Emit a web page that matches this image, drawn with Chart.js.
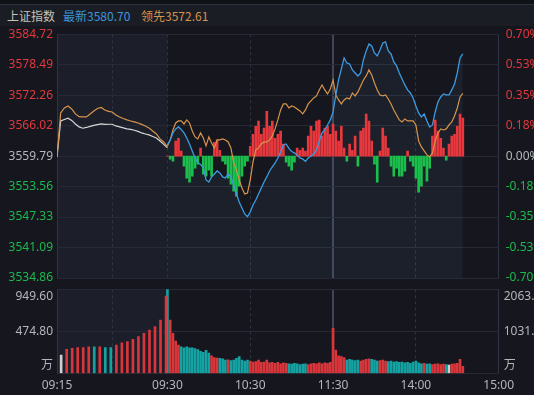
<!DOCTYPE html>
<html>
<head>
<meta charset="utf-8">
<script src="https://cdn.jsdelivr.net/npm/chart.js@4.4.1/dist/chart.umd.min.js"></script>
<style>
  html, body { margin: 0; padding: 0; background: #16171e; }
  #wrap { position: relative; width: 534px; height: 395px; overflow: hidden; background: #16171e; }
  #topbar { position: absolute; left: 0; top: 0; width: 534px; height: 4px; background: #111217; border-bottom: 1px solid #2c3140; }
  #head { position: absolute; left: 0; top: 5px; width: 534px; height: 21px; background: #1b1d25;
          font: 12px 'Noto Sans CJK SC', sans-serif; line-height: 21px; white-space: nowrap; }
  #head span { position: absolute; top: 0; }
  canvas { position: absolute; left: 0; top: 0; }
</style>
</head>
<body>
<div id="wrap">
  <div id="topbar"></div>
  <div id="head">
    <span style="left:7px;color:#c8c2b6">上证指数</span>
    <span style="left:63px;color:#3b96dc">最新3580.70</span>
    <span style="left:141px;color:#d4944e">领先3572.61</span>
  </div>
  <canvas id="volChart" width="560" height="395"></canvas>
  <canvas id="mainChart" width="560" height="395"></canvas>
</div>

<script>
/* ─── DATA ─── */
const PREV_CLOSE = 3559.79;
const AUCTION_UNITS = 80;   // 09:15-09:30 drawn as wide as 80 trading minutes

// call auction 09:15-09:30, one value every 30 s
const auctionLead = [3559.63, 3568.63, 3569.65, 3570.06, 3569.45, 3568.43, 3567.87, 3567.81, 3567.81, 3568.43,
  3569.04, 3569.55, 3569.76, 3569.24, 3568.94, 3568.83, 3568.22, 3567.81, 3567.50, 3567.20,
  3566.99, 3566.79, 3566.58, 3566.28, 3565.97, 3565.56, 3564.95, 3564.33, 3563.31, 3562.70, 3561.67];
const auctionPrice = [3559.63, 3566.99, 3567.30, 3567.55, 3567.10, 3566.38, 3565.77, 3565.50, 3565.66, 3565.87,
  3566.07, 3566.24, 3566.38, 3566.28, 3566.32, 3566.32, 3565.97, 3565.77, 3565.56, 3565.36,
  3565.25, 3565.09, 3564.85, 3564.54, 3564.33, 3564.13, 3563.82, 3563.52, 3562.90, 3562.19, 3561.47];

// continuous trading from 09:30, one value every 2 minutes
const priceLine = [3562.08, 3563.11, 3564.54, 3565.36, 3565.77, 3565.25, 3564.54, 3563.52, 3562.29, 3560.86,
  3559.42, 3558.50, 3558.09, 3557.38, 3554.92, 3554.51, 3555.54, 3556.15, 3556.76, 3556.35,
  3555.54, 3555.33, 3556.15, 3555.54, 3553.90, 3552.06, 3550.42, 3549.19, 3547.97, 3547.41,
  3548.37, 3549.81, 3550.83, 3552.06, 3553.29, 3554.51, 3555.54, 3556.76, 3557.58, 3558.40,
  3559.42, 3560.65, 3562.08, 3562.29, 3561.37, 3560.75, 3560.45, 3560.04, 3559.42, 3559.22,
  3558.71, 3559.42, 3559.83, 3560.24, 3561.06, 3562.90, 3564.54, 3565.15, 3566.17, 3567.20,
  3568.83, 3572.31, 3575.38, 3577.63, 3579.88, 3578.86, 3578.66, 3577.43, 3576.81, 3576.20,
  3576.81, 3579.47, 3581.32, 3582.75, 3582.34, 3580.91, 3580.29, 3581.52, 3582.95, 3583.16,
  3581.32, 3580.70, 3579.06, 3578.25, 3576.81, 3575.59, 3574.36, 3573.34, 3572.72, 3571.70,
  3570.06, 3568.63, 3567.81, 3568.43, 3566.99, 3565.77, 3566.17, 3568.83, 3570.88, 3571.90,
  3572.52, 3572.31, 3572.31, 3573.34, 3574.56, 3576.81, 3579.88, 3580.70];
const leadLine = [3561.88, 3563.11, 3565.15, 3566.58, 3566.99, 3566.99, 3566.38, 3567.20, 3566.58, 3564.95,
  3563.72, 3563.31, 3564.54, 3563.52, 3561.88, 3563.72, 3562.49, 3561.47, 3563.11, 3563.11,
  3563.31, 3563.11, 3562.70, 3561.47, 3558.40, 3556.97, 3554.92, 3553.29, 3552.06, 3552.26,
  3554.92, 3558.60, 3561.06, 3561.47, 3562.29, 3562.70, 3562.70, 3563.11, 3563.92, 3565.36,
  3567.20, 3569.24, 3570.47, 3570.47, 3569.65, 3570.06, 3569.86, 3569.45, 3569.04, 3568.43,
  3569.24, 3570.47, 3571.09, 3571.70, 3572.11, 3573.34, 3574.36, 3573.34, 3572.52, 3573.54,
  3575.38, 3572.31, 3571.29, 3570.47, 3571.29, 3571.70, 3571.49, 3572.72, 3572.11, 3572.93,
  3574.15, 3575.38, 3576.20, 3577.43, 3576.40, 3574.77, 3573.34, 3572.31, 3572.11, 3572.31,
  3571.49, 3570.47, 3569.24, 3568.22, 3567.20, 3566.79, 3567.40, 3566.99, 3566.99, 3566.99,
  3566.17, 3562.90, 3561.67, 3560.86, 3560.04, 3559.63, 3560.45, 3562.90, 3564.54, 3565.36,
  3565.15, 3565.36, 3566.17, 3566.79, 3568.02, 3569.65, 3571.90, 3572.61];
// buy / sell strength bars, in %
const forceBars = [0, -0.017, -0.029, 0.086, 0.103, 0.029, -0.057, -0.126, -0.149, -0.115,
  -0.069, -0.046, 0.046, -0.103, -0.115, -0.080, -0.115, 0.080, 0.092, 0.034,
  -0.029, -0.046, -0.126, -0.161, -0.201, -0.230, -0.172, -0.115, -0.057, -0.029,
  0.057, 0.126, 0.172, 0.201, 0.126, 0.161, 0.258, 0.172, 0.201, 0.103,
  0.126, 0.144, 0.069, -0.034, -0.057, -0.080, -0.034, 0.046, 0.034, 0.046,
  0.029, 0.115, 0.172, 0.144, 0.201, 0.207, 0.115, 0.161, 0.172, 0.126,
  0.184, 0.144, 0.086, 0.172, 0.046, -0.029, 0.069, 0.034, 0.115, -0.057,
  0.144, 0.161, 0.241, 0.201, 0.086, -0.046, -0.149, 0.029, 0.161, 0.115,
  0.046, -0.057, -0.115, -0.069, -0.115, -0.115, -0.086, 0.029, -0.029, -0.057,
  -0.126, -0.207, -0.172, -0.057, -0.144, -0.069, 0.115, 0.207, 0.144, 0.103,
  0.046, -0.023, 0.069, 0.115, 0.126, 0.172, 0.241, 0.218];

// volume (万)
const auctionVol = [209, 273, 284, 291, 291, 302, 302, 302, 291, 291, 321, 347, 359, 386, 415, 453, 491, 528, 603];
const auctionVolKind = ['flat', 'up', 'up', 'up', 'up', 'up', 'down', 'up', 'down', 'down',
  'up', 'up', 'up', 'up', 'up', 'up', 'up', 'up', 'up'];
const matchVol = 874;
const tradeVol = [949.6, 603, 453, 366, 320, 300, 290, 300, 290, 290,
  280, 270, 250, 240, 260, 230, 200, 180, 175, 170,
  165, 150, 155, 145, 150, 170, 190, 150, 140, 150,
  140, 130, 135, 150, 125, 130, 150, 120, 125, 115,
  125, 110, 120, 115, 110, 105, 115, 110, 100, 105,
  110, 100, 110, 115, 110, 120, 110, 120, 115, 125,
  510, 265, 200, 190, 180, 150, 160, 150, 145, 150,
  140, 150, 160, 165, 160, 150, 140, 145, 150, 140,
  135, 140, 130, 135, 125, 130, 120, 125, 115, 130,
  140, 120, 110, 115, 105, 110, 100, 105, 110, 100,
  105, 100, 95, 105, 110, 115, 160, 80];

const priceTicks = [3534.86, 3541.09, 3547.33, 3553.56, 3559.79, 3566.02, 3572.26, 3578.49, 3584.72];
const pctTicks = [-0.70, -0.525, -0.35, -0.175, 0, 0.175, 0.35, 0.525, 0.70];
const pctLabels = ['-0.70%', '-0.53%', '-0.35%', '-0.18%', '0.00%', '0.18%', '0.35%', '0.53%', '0.70%'];
const volTicks = [0, 474.8, 949.6];
const volLabelsL = ['万', '474.80', '949.60'];
const volLabelsR = ['万', '1031.60', '2063.20'];
const timeTicks = [0, 40, 80, 140, 200, 260, 320];
const timeLabels = ['09:15', '', '09:30', '10:30', '11:30', '14:00', '15:00'];

/* ─── STYLE ─── */
Chart.defaults.font.family = "'Noto Sans', sans-serif";
Chart.defaults.font.size = 12;

const RED = '#e3373c', GREEN = '#1cb94d', GREY_TXT = '#b4b6bd';
const VOL_UP = '#d9363b', VOL_DOWN = '#15a2a3', VOL_FLAT = '#cfcfcf';
const GRID = '#272a36', GRID_V = '#2f3342', NOON = '#3f4557';
const AUX_BG = '#1c1f2a';
const AREA_L = 57, AREA_R = 498.7, CANVAS_W = 560;

const auctionX = i => i * AUCTION_UNITS / 30;
const tradeX = k => AUCTION_UNITS + 2 * k;
const auctionVolX = i => 3 + 4 * i;
const tickVal = c => (c && c.tick) ? c.tick.value : null;

const auctionShade = {
  id: 'auctionShade',
  beforeDraw(chart) {
    const { ctx, chartArea, scales } = chart;
    const x0 = scales.x.getPixelForValue(0);
    const x1 = scales.x.getPixelForValue(AUCTION_UNITS);
    ctx.save();
    ctx.fillStyle = AUX_BG;
    ctx.fillRect(x0, chartArea.top, x1 - x0, chartArea.bottom - chartArea.top);
    ctx.restore();
  }
};

const xGrid = {
  offset: false,
  color: c => tickVal(c) === 200 ? NOON : GRID_V,
  lineWidth: c => tickVal(c) === 200 ? 2 : 1,
  drawTicks: false
};
const xBorder = {
  display: false,
  dash: c => [40, 80, 140, 260].includes(tickVal(c)) ? [3, 3] : []
};
const signColor = (v, ref) => v === null ? GREY_TXT : (v > ref + 0.001 ? RED : (v < ref - 0.001 ? GREEN : GREY_TXT));

/* ─── MAIN CHART ─── */
new Chart(document.getElementById('mainChart'), {
  type: 'line',
  data: {
    datasets: [
      {
        data: priceLine.map((v, k) => ({ x: tradeX(k), y: v })),
        borderColor: '#3d9ae0', borderWidth: 1.3, pointRadius: 0, tension: 0,
        fill: 'start', backgroundColor: 'rgba(90,130,180,0.09)', order: 0
      },
      {
        data: leadLine.map((v, k) => ({ x: tradeX(k), y: v })),
        borderColor: '#d7944c', borderWidth: 1.2, pointRadius: 0, tension: 0, fill: false, order: 1
      },
      {
        data: auctionLead.map((v, i) => ({ x: auctionX(i), y: v })),
        borderColor: '#d7944c', borderWidth: 1.2, pointRadius: 0, tension: 0, fill: false, order: 1
      },
      {
        data: auctionPrice.map((v, i) => ({ x: auctionX(i), y: v })),
        borderColor: '#d6d6d8', borderWidth: 1.2, pointRadius: 0, tension: 0, fill: false, order: 1
      },
      {
        type: 'bar',
        yAxisID: 'yp',
        data: forceBars.map((v, k) => ({ x: tradeX(k), y: v })),
        backgroundColor: forceBars.map(v => v >= 0 ? '#e8383d' : '#1bbf4c'),
        barThickness: 2, grouped: false, order: 2
      }
    ]
  },
  options: {
    responsive: false,
    animation: false,
    layout: { padding: { top: 34.3, bottom: 117, left: 0, right: 0 } },
    plugins: { legend: { display: false }, tooltip: { enabled: false }, filler: { drawTime: 'beforeDatasetsDraw' } },
    scales: {
      x: {
        type: 'linear', min: 0, max: 320, offset: false,
        afterBuildTicks: s => { s.ticks = timeTicks.map(v => ({ value: v })); },
        afterFit: s => { s.height = 0; },
        ticks: { display: false },
        grid: xGrid, border: xBorder
      },
      y: {
        position: 'left', min: 3534.86, max: 3584.72,
        afterBuildTicks: s => { s.ticks = priceTicks.map(v => ({ value: v })); },
        afterFit: s => { s.width = AREA_L; },
        ticks: {
          autoSkip: false, padding: 4,
          callback: v => v.toFixed(2),
          color: c => signColor(tickVal(c), PREV_CLOSE)
        },
        grid: { color: GRID, drawTicks: false },
        border: { display: false }
      },
      yp: {
        position: 'right', min: -0.70, max: 0.70,
        afterBuildTicks: s => { s.ticks = pctTicks.map(v => ({ value: v })); },
        afterFit: s => { s.width = CANVAS_W - AREA_R; },
        ticks: {
          autoSkip: false, padding: 7,
          callback: (v, i) => pctLabels[i],
          color: c => signColor(tickVal(c), 0)
        },
        grid: { display: false, drawTicks: false },
        border: { display: false }
      }
    }
  },
  plugins: [auctionShade]
});

/* ─── VOLUME CHART ─── */
const volLabels = {
  id: 'volLabels',
  afterDraw(chart) {
    const { ctx, chartArea, scales } = chart;
    const shift = [-8, 0, 7.5];
    ctx.save();
    ctx.font = "12px 'Noto Sans', 'Noto Sans CJK SC', sans-serif";
    ctx.fillStyle = GREY_TXT;
    ctx.textBaseline = 'middle';
    volTicks.forEach((v, i) => {
      const y = scales.y.getPixelForValue(v) + shift[i];
      ctx.textAlign = 'right';
      ctx.fillText(volLabelsL[i], chartArea.left - 4, y);
      ctx.textAlign = 'left';
      ctx.fillText(volLabelsR[i], chartArea.right + 5, y);
    });
    ctx.restore();
  }
};

const kindColor = { up: VOL_UP, down: VOL_DOWN, flat: VOL_FLAT };

new Chart(document.getElementById('volChart'), {
  type: 'bar',
  data: {
    datasets: [
      {
        data: auctionVol.map((v, i) => ({ x: auctionVolX(i), y: v })),
        backgroundColor: auctionVolKind.map(k => kindColor[k]),
        barThickness: 2, grouped: false
      },
      {
        data: [{ x: AUCTION_UNITS - 1, y: matchVol }],
        backgroundColor: VOL_UP, barThickness: 2, grouped: false
      },
      {
        data: tradeVol.map((v, k) => ({ x: tradeX(k), y: v })),
        backgroundColor: priceLine.map((p, k) => k === 0 ? VOL_DOWN : (p > priceLine[k - 1] ? VOL_UP : (p < priceLine[k - 1] ? VOL_DOWN : VOL_FLAT))),
        barThickness: 2, grouped: false
      }
    ]
  },
  options: {
    responsive: false,
    animation: false,
    layout: { padding: { top: 289.3, bottom: 0, left: 0, right: CANVAS_W - AREA_R } },
    plugins: { legend: { display: false }, tooltip: { enabled: false } },
    scales: {
      x: {
        type: 'linear', min: 0, max: 320, offset: false,
        afterBuildTicks: s => { s.ticks = timeTicks.map(v => ({ value: v })); },
        afterFit: s => { s.height = 21.5; },
        ticks: { autoSkip: false, maxRotation: 0, padding: 5, color: GREY_TXT, callback: (v, i) => timeLabels[i] },
        grid: xGrid, border: xBorder
      },
      y: {
        position: 'left', min: 0, max: 949.6,
        afterBuildTicks: s => { s.ticks = volTicks.map(v => ({ value: v })); },
        afterFit: s => { s.width = AREA_L; },
        ticks: { display: false },
        grid: { color: GRID, drawTicks: false },
        border: { display: false }
      }
    }
  },
  plugins: [auctionShade, volLabels]
});
</script>
</body>
</html>
